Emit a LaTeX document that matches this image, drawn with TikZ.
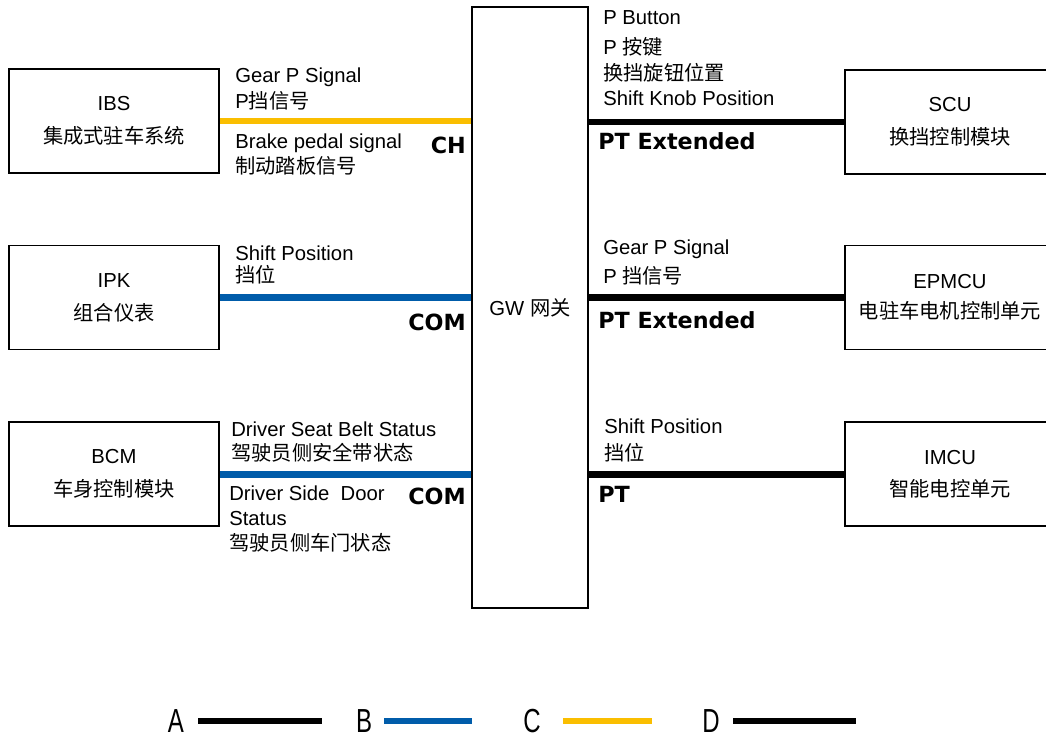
\documentclass[tikz,border=0pt]{standalone}
\usepackage{fontspec}
\setmainfont{Liberation Sans}
\newfontfamily\cjk{Noto Sans CJK SC}
\newfontfamily\busfont{DejaVu Sans}
\usetikzlibrary{positioning}
\definecolor{canyellow}{RGB}{250,190,0}
\definecolor{canblue}{RGB}{0,92,170}

\begin{document}
\begin{tikzpicture}[
    x=0.75pt, y=-0.75pt,
    font=\fontsize{15.2}{19.5}\selectfont,
    ecu/.style={draw, line width=1.2pt, align=center, minimum width=157.5pt, minimum height=78pt, inner sep=0pt},
    sig/.style={anchor=north west, inner sep=0pt, align=left},
    bus/.style={inner sep=0pt, font=\busfont\bfseries\fontsize{16.7}{18}\selectfont},
    leg/.style={inner sep=0pt, font=\fontsize{25}{25}\selectfont},
    chline/.style={line width=5pt, draw=canyellow},
    comline/.style={line width=5pt, draw=canblue},
    ptline/.style={line width=5pt, draw=black}
]
\useasboundingbox (0,0) rectangle (1046,740);

% gateway
\node[draw, line width=1.2pt, minimum width=87pt, minimum height=450.75pt, inner sep=0pt] (gw) at (530,307.5) {GW {\cjk 网关}};

% left side
\node[ecu] (ibs) at (114,121) {IBS\\[5.25pt]{\cjk 集成式驻车系统}};
\node[ecu, below=53.25pt of ibs] (ipk) {IPK\\[5.25pt]{\cjk 组合仪表}};
\node[ecu, below=53.25pt of ipk] (bcm) {BCM\\[5.25pt]{\cjk 车身控制模块}};

% right side
\node[ecu] (scu) at (950,122) {SCU\\[5.25pt]{\cjk 换挡控制模块}};
\node[ecu, below=52.5pt of scu] (epmcu) {EPMCU\\[3pt]{\cjk 电驻车电机控制单元}};
\node[ecu, below=53.25pt of epmcu] (imcu) {IMCU\\[4.5pt]{\cjk 智能电控单元}};

% buses
\draw[chline] (ibs.east) -- (ibs.east -| gw.west);
\draw[comline] (ipk.east) -- (ipk.east -| gw.west);
\draw[comline] (bcm.east) -- (bcm.east -| gw.west);
\draw[ptline] (gw.east |- scu.west) -- (scu.west);
\draw[ptline] (gw.east |- epmcu.west) -- (epmcu.west);
\draw[ptline] (gw.east |- imcu.west) -- (imcu.west);

\node[bus, anchor=east] (ch) at (466,145) {CH};
\node[bus, anchor=east] (com1) at (466,322) {COM};
\node[bus, anchor=east] (com2) at (466,496) {COM};
\node[bus, anchor=west] (ptext1) at (598,141) {PT Extended};
\node[bus, anchor=west] (ptext2) at (598,320) {PT Extended};
\node[bus, anchor=west] (pt) at (598,494) {PT};

% signals
\node[sig] (ibsup) at (235,68) {Gear P Signal\\P{\cjk 挡信号}};
\node[sig] (ibsdown) at (235,134) {Brake pedal signal\\[-0.75pt]{\cjk 制动踏板信号}};
\node[sig] (ipkup) at (235,246) {Shift Position\\[-3pt]{\cjk 挡位}};
\node[sig] (bcmup) at (231,422) {Driver Seat Belt Status\\[-1.5pt]{\cjk 驾驶员侧安全带状态}};
\node[sig] (bcmdown) at (229,486) {Driver Side~ Door\\[-1pt]Status\\[-1pt]{\cjk 驾驶员侧车门状态}};
\node[sig] (scuup) at (603,10) {P Button\\[3pt]P {\cjk 按键}\\{\cjk 换挡旋钮位置}\\[-0.75pt]Shift Knob Position};
\node[sig] (epmcuup) at (603,240) {Gear P Signal\\[2.25pt]P {\cjk 挡信号}};
\node[sig] (imcuup) at (604,419) {Shift Position\\[0.75pt]{\cjk 挡位}};

% legend
\node[leg] (legA) at (176,721) {\scalebox{0.72}[1]{A}};
\node[leg] (legB) at (364,721) {\scalebox{0.72}[1]{B}};
\node[leg] (legC) at (532,721) {\scalebox{0.72}[1]{C}};
\node[leg] (legD) at (711,721) {\scalebox{0.72}[1]{D}};
\coordinate (a1) at (198,721); \coordinate (a2) at (322,721);
\coordinate (b1) at (384,721); \coordinate (b2) at (472,721);
\coordinate (c1) at (563,721); \coordinate (c2) at (652,721);
\coordinate (d1) at (733,721); \coordinate (d2) at (856,721);
\draw[ptline] (a1) -- (a2);
\draw[comline] (b1) -- (b2);
\draw[chline] (c1) -- (c2);
\draw[ptline] (d1) -- (d2);

\end{tikzpicture}
\end{document}
